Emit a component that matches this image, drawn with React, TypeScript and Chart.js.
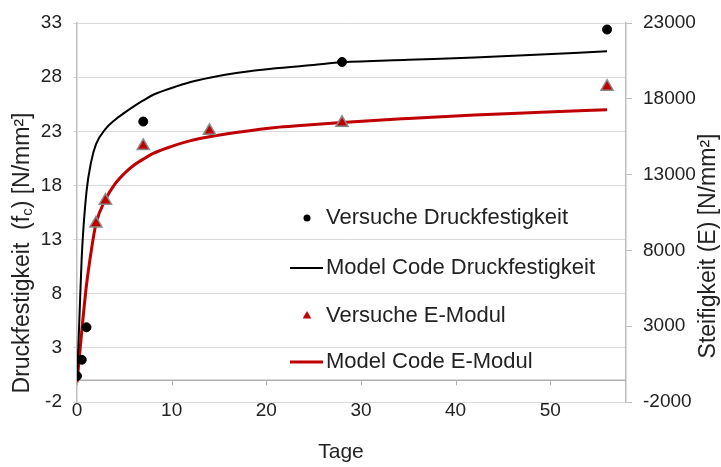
import React, { useEffect, useRef } from "react";
import { Chart, registerables } from "chart.js";

Chart.register(...registerables);

// ---- data ----
const modelDays = [0, 0.25, 0.5, 1, 1.5, 2, 3, 4, 5, 6, 7, 8, 10, 12, 14, 17, 21, 24, 28, 35, 42, 49, 56];
const modelFc = [0, 5.6, 11.4, 17.4, 20.2, 21.8, 23.2, 24.05, 24.7, 25.3, 25.85, 26.35, 27.0, 27.55, 27.95, 28.4, 28.82, 29.05, 29.37, 29.6, 29.82, 30.1, 30.38];
const modelE = [-700, 960, 2640, 5700, 7950, 9750, 11350, 12370, 13070, 13620, 14020, 14380, 14860, 15240, 15500, 15790, 16110, 16250, 16440, 16700, 16930, 17110, 17280];

const testFcDays = [0, 0.5, 1, 7, 28, 56];
const testFc = [0.4, 1.9, 4.9, 23.9, 29.4, 32.4];

const testEDays = [2, 3, 7, 14, 28, 56];
const testE = [9780, 11280, 14890, 15890, 16420, 18800];

const seriesNames = [
  "Versuche Druckfestigkeit",
  "Model Code Druckfestigkeit",
  "Versuche E-Modul",
  "Model Code E-Modul",
];

const xTitle = "Tage";
const yLeftTitleParts = ["Druckfestigkeit  (f", "c", ") [N/mm\u00B2]"];
const yRightTitle = "Steifigkeit (E) [N/mm\u00B2]";

const xRange = [0, 58, 10];
const yLeftRange = [-2, 33, 5];
const yRightRange = [-2000, 23000, 5000];

const FONT = "'Liberation Sans', Arial, sans-serif";
const TEXT = "#222222";
const RED = "#C00000";

const zip = (xs: number[], ys: number[]) => xs.map((x, i) => ({ x, y: ys[i] }));

export default function App() {
  const ref = useRef<HTMLCanvasElement | null>(null);

  useEffect(() => {
    document.body.style.margin = "0";
    const canvas = ref.current;
    if (!canvas) return;

    const overlay = {
      id: "overlay",
      beforeDatasetsDraw(chart: any) {
        const { ctx, chartArea, scales } = chart;
        const x = scales.x;
        const y = scales.y;
        const y0 = y.getPixelForValue(0);
        ctx.save();
        ctx.strokeStyle = "#b0b0b0";
        ctx.lineWidth = 1.5;
        ctx.beginPath();
        ctx.moveTo(chartArea.left, y0);
        ctx.lineTo(chartArea.right, y0);
        ctx.stroke();
        ctx.lineWidth = 1;
        ctx.beginPath();
        for (const t of x.ticks) {
          const px = Math.round(x.getPixelForValue(t.value)) + 0.5;
          ctx.moveTo(px, y0);
          ctx.lineTo(px, y0 + 5);
        }
        ctx.stroke();
        ctx.restore();
      },
      afterDraw(chart: any) {
        const { ctx } = chart;
        ctx.save();
        ctx.fillStyle = TEXT;
        ctx.textBaseline = "middle";

        // x title
        ctx.font = `21px ${FONT}`;
        ctx.textAlign = "center";
        ctx.fillText(xTitle, 341, 452);

        // left title with subscript
        ctx.save();
        ctx.translate(23, 253);
        ctx.rotate(-Math.PI / 2);
        ctx.textAlign = "left";
        const big = `23px ${FONT}`;
        const small = `15px ${FONT}`;
        ctx.font = big;
        const w1 = ctx.measureText(yLeftTitleParts[0]).width;
        const w3 = ctx.measureText(yLeftTitleParts[2]).width;
        ctx.font = small;
        const w2 = ctx.measureText(yLeftTitleParts[1]).width;
        let sx = -(w1 + w2 + w3) / 2;
        ctx.font = big;
        ctx.fillText(yLeftTitleParts[0], sx, 0);
        sx += w1;
        ctx.font = small;
        ctx.fillText(yLeftTitleParts[1], sx, 5);
        sx += w2;
        ctx.font = big;
        ctx.fillText(yLeftTitleParts[2], sx, 0);
        ctx.restore();

        // right title
        ctx.save();
        ctx.translate(709, 246);
        ctx.rotate(-Math.PI / 2);
        ctx.textAlign = "center";
        ctx.font = `23px ${FONT}`;
        ctx.fillText(yRightTitle, 0, 0);
        ctx.restore();

        // legend
        const rows = [218, 268, 316, 362];
        ctx.font = `22px ${FONT}`;
        ctx.textAlign = "left";
        rows.forEach((ry, i) => {
          ctx.fillStyle = TEXT;
          ctx.fillText(seriesNames[i], 326, ry);
        });
        // dot
        ctx.fillStyle = "#000";
        ctx.beginPath();
        ctx.arc(307, rows[0], 3.5, 0, Math.PI * 2);
        ctx.fill();
        // black line
        ctx.strokeStyle = "#000";
        ctx.lineWidth = 2;
        ctx.beginPath();
        ctx.moveTo(290, rows[1]);
        ctx.lineTo(323, rows[1]);
        ctx.stroke();
        // triangle
        ctx.fillStyle = RED;
        ctx.beginPath();
        const r = 5;
        ctx.moveTo(307, rows[2] - r);
        ctx.lineTo(307 + r * 0.866, rows[2] + r / 2);
        ctx.lineTo(307 - r * 0.866, rows[2] + r / 2);
        ctx.closePath();
        ctx.fill();
        // red line
        ctx.strokeStyle = RED;
        ctx.lineWidth = 3;
        ctx.beginPath();
        ctx.moveTo(290, rows[3]);
        ctx.lineTo(323, rows[3]);
        ctx.stroke();
        ctx.restore();
      },
    };

    const tickFont = { family: FONT, size: 19 };

    const chart = new Chart(canvas, {
      type: "scatter",
      data: {
        datasets: [
          {
            label: seriesNames[0],
            data: zip(testFcDays, testFc),
            yAxisID: "y",
            backgroundColor: "#000",
            borderColor: "#000",
            pointRadius: 4.5,
            pointStyle: "circle",
            showLine: false,
            order: 0,
          },
          {
            label: seriesNames[2],
            data: zip(testEDays, testE),
            yAxisID: "y2",
            backgroundColor: RED,
            borderColor: "#8a8a8a",
            borderWidth: 1.5,
            pointRadius: 7,
            pointStyle: "triangle",
            showLine: false,
            order: 0,
          },
          {
            label: seriesNames[1],
            data: zip(modelDays, modelFc),
            yAxisID: "y",
            borderColor: "#000",
            backgroundColor: "#000",
            borderWidth: 2,
            pointRadius: 0,
            showLine: true,
            cubicInterpolationMode: "monotone",
            order: 1,
          },
          {
            label: seriesNames[3],
            data: zip(modelDays, modelE),
            yAxisID: "y2",
            borderColor: RED,
            backgroundColor: RED,
            borderWidth: 3,
            pointRadius: 0,
            showLine: true,
            cubicInterpolationMode: "monotone",
            order: 1,
          },
        ],
      },
      options: {
        responsive: false,
        animation: false,
        devicePixelRatio: 1,
        layout: { padding: { top: 23, left: 0, right: 0, bottom: 0 } },
        plugins: {
          legend: { display: false },
          tooltip: { enabled: false },
        },
        scales: {
          x: {
            type: "linear",
            position: "bottom",
            min: xRange[0],
            max: xRange[1],
            grid: { display: false },
            border: { display: false },
            ticks: {
              stepSize: xRange[2],
              font: tickFont,
              color: TEXT,
              padding: -11,
              maxRotation: 0,
              callback: (v: any) => String(v),
            },
            afterBuildTicks: (s: any) => {
              s.ticks = s.ticks.filter((t: any) => t.value % xRange[2] === 0);
            },
            afterFit: (s: any) => {
              s.height = 65;
            },
          },
          y: {
            type: "linear",
            position: "left",
            min: yLeftRange[0],
            max: yLeftRange[1],
            grid: { color: "#d9d9d9", lineWidth: 1, tickLength: 4 },
            border: { display: true, color: "#bdbdbd", width: 1.5 },
            ticks: {
              stepSize: yLeftRange[2],
              font: tickFont,
              color: TEXT,
              padding: 11,
              callback: (v: any) => String(v),
            },
            afterFit: (s: any) => {
              s.width = 77;
            },
          },
          y2: {
            type: "linear",
            position: "right",
            min: yRightRange[0],
            max: yRightRange[1],
            grid: { drawOnChartArea: false, color: "#bdbdbd", tickLength: 6 },
            border: { display: true, color: "#bdbdbd", width: 1.5 },
            ticks: {
              stepSize: yRightRange[2],
              font: tickFont,
              color: TEXT,
              padding: 11,
              callback: (v: any) => String(v),
            },
            afterFit: (s: any) => {
              s.width = 95;
            },
          },
        },
      },
      plugins: [overlay],
    } as any);

    return () => chart.destroy();
  }, []);

  return (
    <div style={{ width: 721, height: 467, background: "#fff" }}>
      <canvas ref={ref} width={721} height={467} style={{ display: "block", width: 721, height: 467 }} />
    </div>
  );
}
